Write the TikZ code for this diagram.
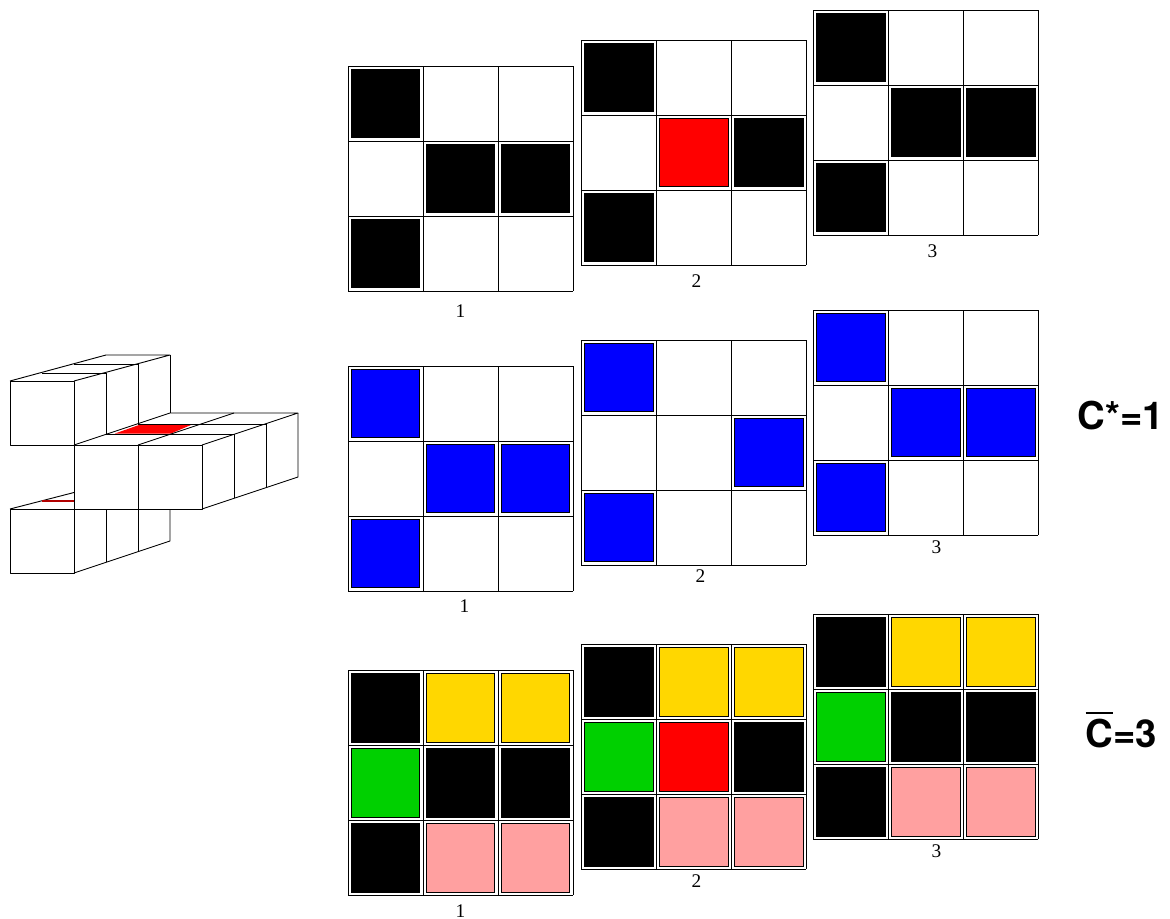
\documentclass[tikz,border=0pt]{standalone}
\usepackage{fontspec}
\setmainfont{Liberation Serif}
\newfontfamily\headfont{TeX Gyre Heros}
\definecolor{cellgreen}{RGB}{0,208,0}
\definecolor{cellgold}{RGB}{255,215,0}
\definecolor{cellpink}{RGB}{255,160,160}
\tikzset{
  wire/.style={black,line width=0.26pt,line join=round},
  cell/.style={draw=black,line width=0.12pt},
  gridlabel/.style={font=\fontsize{5.5}{6}\selectfont,inner sep=0pt},
  bound/.style={font=\headfont\bfseries\fontsize{10.9}{12}\selectfont,inner sep=0pt}
}
% #1 = left, #2 = top, #3 = list of column/row/colour
\newcommand{\latticebox}[3]{
  \begin{scope}[shift={(#1,#2)}]
    \foreach \cx/\cy/\col in {#3}
    {
    \fill[\col,cell] (75*\cx+3.3,75*\cy+3.3) rectangle (75*\cx+71.7,75*\cy+71.7);
  }
    \foreach \k in {0,1,2,3}
    {
    \draw[wire] (75*\k,0) -- (75*\k,225);
    \draw[wire] (0,75*\k) -- (225,75*\k);
  }
  \end{scope}
}
\begin{document}
\begin{tikzpicture}[x=0.01cm,y=-0.01cm]
  \useasboundingbox (0,0) rectangle (1170,918);

  %upper block
  \draw[wire] (10,381) rectangle (74,445);
  \draw[wire] (10,381) -- (106,355) -- (170,355) -- (74,381);
  \draw[wire] (42,373) -- (106,373);
  \draw[wire] (74,364) -- (138,364);
  \draw[wire] (170,355) -- (170,413);
  \draw[wire] (138,364) -- (138,424);
  \draw[wire] (106,373) -- (106,434);

  %middle block
  \fill[red] (115,433.5) -- (139,425) -- (191,425) -- (171,433.5) -- cycle;
  \draw[wire] (74,445) rectangle (138,509);
  \draw[wire] (138,445) rectangle (202,509);
  \draw[wire] (74,445) -- (170,413) -- (298,413) -- (202,445);
  \draw[wire] (138,445) -- (234,413);
  \draw[wire] (106,434) -- (234,434);
  \draw[wire] (138,424) -- (266,424);
  \draw[wire] (298,413) -- (298,477) -- (202,509);
  \draw[wire] (234,434) -- (234,498);
  \draw[wire] (266,424) -- (266,488);

  %lower block
  \draw[wire] (10,509) rectangle (74,573);
  \draw[wire] (10,509) -- (74,492.5);
  \draw[red!70!black,line width=0.4pt] (42,501) -- (74,501);
  \draw[wire] (74,509) -- (170,509);
  \draw[wire] (170,509) -- (170,541) -- (74,573);
  \draw[wire] (106,509) -- (106,562);
  \draw[wire] (138,509) -- (138,552);

  %first row
  \latticebox{348}{66}{0/0/black,1/1/black,2/1/black,0/2/black}
  \latticebox{581}{40}{0/0/black,1/1/red,2/1/black,0/2/black}
  \latticebox{813}{10}{0/0/black,1/1/black,2/1/black,0/2/black}
  \node[gridlabel] (blackone) at (460.5,311) {1};
  \node[gridlabel] (blacktwo) at (696.5,281.5) {2};
  \node[gridlabel] (blackthree) at (932.5,251.5) {3};

  %second row
  \latticebox{348}{366}{0/0/blue,1/1/blue,2/1/blue,0/2/blue}
  \latticebox{581}{340}{0/0/blue,2/1/blue,0/2/blue}
  \latticebox{813}{310}{0/0/blue,1/1/blue,2/1/blue,0/2/blue}
  \node[gridlabel] (blueone) at (464.5,606) {1};
  \node[gridlabel] (bluetwo) at (700.5,576.5) {2};
  \node[gridlabel] (bluethree) at (936.5,547.5) {3};

  %third row
  \latticebox{348}{670}{0/0/black,1/0/cellgold,2/0/cellgold,0/1/cellgreen,1/1/black,2/1/black,0/2/black,1/2/cellpink,2/2/cellpink}
  \latticebox{581}{644}{0/0/black,1/0/cellgold,2/0/cellgold,0/1/cellgreen,1/1/red,2/1/black,0/2/black,1/2/cellpink,2/2/cellpink}
  \latticebox{813}{614}{0/0/black,1/0/cellgold,2/0/cellgold,0/1/cellgreen,1/1/black,2/1/black,0/2/black,1/2/cellpink,2/2/cellpink}
  \node[gridlabel] (mixone) at (460.5,911.5) {1};
  \node[gridlabel] (mixtwo) at (696.5,881.5) {2};
  \node[gridlabel] (mixthree) at (936.5,851.5) {3};

  \node[bound,anchor=base west] (cstar) at (1077,429.5) {C*=1};
  \node[bound,anchor=base west] (cbar) at (1085,747.5) {$\overline{\rule{0pt}{8.4pt}\mbox{C}}$=3};
\end{tikzpicture}
\end{document}
